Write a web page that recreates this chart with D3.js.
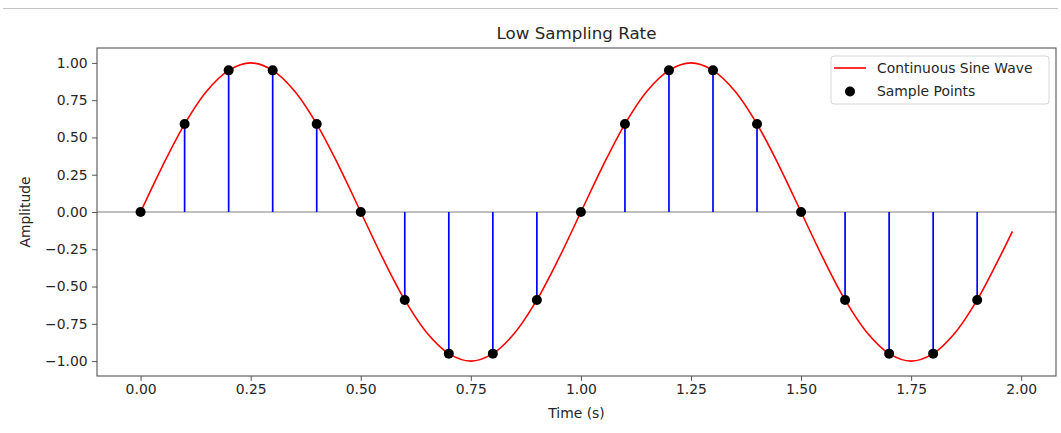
<!DOCTYPE html>
<html>
<head>
<meta charset="utf-8">
<script src="https://cdn.jsdelivr.net/npm/d3@7"></script>
<style>
  html, body { margin: 0; padding: 0; background: #fff; }
  svg { display: block; }
  text { font-family: "DejaVu Sans", sans-serif; fill: #262626; }
</style>
</head>
<body>
<script>
// Continuous wave, sampled every 0.05 s (last point at 1.98 s)
const waveTimes = [0.00,0.05,0.10,0.15,0.20,0.25,0.30,0.35,0.40,0.45,
                   0.50,0.55,0.60,0.65,0.70,0.75,0.80,0.85,0.90,0.95,
                   1.00,1.05,1.10,1.15,1.20,1.25,1.30,1.35,1.40,1.45,
                   1.50,1.55,1.60,1.65,1.70,1.75,1.80,1.85,1.90,1.95,1.98];
const waveValues = [0.00,0.31,0.59,0.81,0.95,1.00,0.95,0.81,0.59,0.31,
                    0.00,-0.31,-0.59,-0.81,-0.95,-1.00,-0.95,-0.81,-0.59,-0.31,
                    0.00,0.31,0.59,0.81,0.95,1.00,0.95,0.81,0.59,0.31,
                    0.00,-0.31,-0.59,-0.81,-0.95,-1.00,-0.95,-0.81,-0.59,-0.31,-0.13];

// Low-rate samples (10 Hz)
const sampleTimes = [0.0,0.1,0.2,0.3,0.4,0.5,0.6,0.7,0.8,0.9,
                     1.0,1.1,1.2,1.3,1.4,1.5,1.6,1.7,1.8,1.9];
const sampleValues = [0.00,0.59,0.95,0.95,0.59,0.00,-0.59,-0.95,-0.95,-0.59,
                      0.00,0.59,0.95,0.95,0.59,0.00,-0.59,-0.95,-0.95,-0.59];

const xTicks = [0.00,0.25,0.50,0.75,1.00,1.25,1.50,1.75,2.00];
const yTicks = [-1.00,-0.75,-0.50,-0.25,0.00,0.25,0.50,0.75,1.00];

const titleText = "Low Sampling Rate";
const xLabel = "Time (s)";
const yLabel = "Amplitude";
const legendLabels = ["Continuous Sine Wave", "Sample Points"];

const W = 1061, H = 433;
const plot = { left: 97, right: 1056, top: 48, bottom: 376 };

const svg = d3.select("body").append("svg")
  .attr("width", W).attr("height", H);

// thin separator line at the top of the page
svg.append("line")
  .attr("x1", 3).attr("x2", 1058).attr("y1", 8.5).attr("y2", 8.5)
  .attr("stroke", "#c4c4c4").attr("stroke-width", 1);

const x = d3.scaleLinear().domain([-0.099, 2.079]).range([plot.left, plot.right]);
const y = d3.scaleLinear().domain([-1.1, 1.1]).range([plot.bottom, plot.top]);

const waveData = waveTimes.map((t, i) => ({ t, v: waveValues[i] }));
const samples = sampleTimes.map((t, i) => ({ t, v: sampleValues[i] }));

// zero reference line
svg.append("line")
  .attr("x1", plot.left).attr("x2", plot.right)
  .attr("y1", y(0)).attr("y2", y(0))
  .attr("stroke", "#808080").attr("stroke-width", 1.1);

// continuous wave
const line = d3.line()
  .x(d => x(d.t)).y(d => y(d.v))
  .curve(d3.curveCatmullRom.alpha(0.5));
svg.append("path")
  .datum(waveData)
  .attr("d", line)
  .attr("fill", "none")
  .attr("stroke", "#ff0000")
  .attr("stroke-width", 1.6);

// stems
svg.append("g").selectAll("line")
  .data(samples).join("line")
  .attr("x1", d => x(d.t)).attr("x2", d => x(d.t))
  .attr("y1", y(0)).attr("y2", d => y(d.v))
  .attr("stroke", "#0000ff").attr("stroke-width", 1.7);

// sample markers
svg.append("g").selectAll("circle")
  .data(samples).join("circle")
  .attr("cx", d => x(d.t)).attr("cy", d => y(d.v))
  .attr("r", 5).attr("fill", "#000");

// axes
const tickFmt = d3.format(".2f");
const minus = s => s.replace("-", "\u2212");
const xAxis = svg.append("g")
  .attr("transform", `translate(0,${plot.bottom})`)
  .call(d3.axisBottom(x).tickValues(xTicks).tickFormat(d => minus(tickFmt(d)))
        .tickSize(4.9).tickPadding(3.5).tickSizeOuter(0));
const yAxis = svg.append("g")
  .attr("transform", `translate(${plot.left},0)`)
  .call(d3.axisLeft(y).tickValues(yTicks).tickFormat(d => minus(tickFmt(d)))
        .tickSize(4.9).tickPadding(4.5).tickSizeOuter(0));
[xAxis, yAxis].forEach(g => {
  g.select(".domain").remove();
  g.selectAll(".tick line").attr("stroke", "#555").attr("stroke-width", 1);
  g.selectAll(".tick text").attr("font-size", 13.9)
    .attr("font-family", "DejaVu Sans, sans-serif").attr("fill", "#262626");
});

// frame
svg.append("rect")
  .attr("x", plot.left).attr("y", plot.top)
  .attr("width", plot.right - plot.left).attr("height", plot.bottom - plot.top)
  .attr("fill", "none").attr("stroke", "#555").attr("stroke-width", 1.1);

// title and labels
svg.append("text")
  .attr("x", (plot.left + plot.right) / 2).attr("y", 39)
  .attr("text-anchor", "middle").attr("font-size", 16.7)
  .text(titleText);
svg.append("text")
  .attr("x", (plot.left + plot.right) / 2).attr("y", 418)
  .attr("text-anchor", "middle").attr("font-size", 13.9)
  .text(xLabel);
svg.append("text")
  .attr("transform", `translate(30,${(plot.top + plot.bottom) / 2}) rotate(-90)`)
  .attr("text-anchor", "middle").attr("font-size", 13.9)
  .text(yLabel);

// legend
const lg = svg.append("g");
lg.append("rect")
  .attr("x", 831).attr("y", 56).attr("width", 218).attr("height", 48)
  .attr("rx", 3).attr("fill", "#fff").attr("fill-opacity", 0.8)
  .attr("stroke", "#d6d6d6").attr("stroke-width", 1);
lg.append("line")
  .attr("x1", 834).attr("x2", 866).attr("y1", 68).attr("y2", 68)
  .attr("stroke", "#ff0000").attr("stroke-width", 1.6);
lg.append("circle")
  .attr("cx", 850).attr("cy", 91.5).attr("r", 5).attr("fill", "#000");
lg.selectAll("text.lbl")
  .data(legendLabels).join("text")
  .attr("class", "lbl")
  .attr("x", 877).attr("y", (d, i) => 68 + i * 23.5)
  .attr("dy", "0.35em").attr("font-size", 13.9)
  .text(d => d);
</script>
</body>
</html>
